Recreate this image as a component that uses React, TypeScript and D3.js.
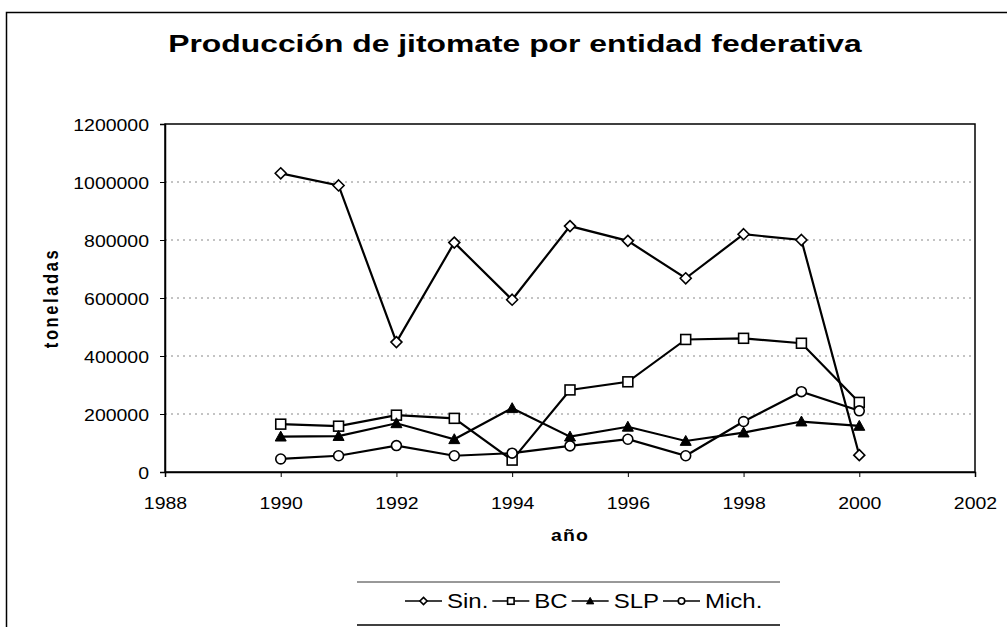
import * as d3 from 'd3';
import React, {useEffect} from 'react';

// data (toneladas)
const years = [1990, 1991, 1992, 1993, 1994, 1995, 1996, 1997, 1998, 1999, 2000];
const sinaloa = [1030000, 988000, 448000, 791000, 594000, 848000, 797000, 668000, 820000, 800000, 58000];
const bajaCalifornia = [165000, 158000, 196000, 185000, 41000, 283000, 311000, 457000, 461000, 444000, 240000];
const sanLuisPotosi = [122000, 124000, 168000, 113000, 220000, 122000, 156000, 107000, 136000, 174000, 159000];
const michoacan = [45000, 56000, 91000, 56000, 65000, 90000, 113000, 56000, 174000, 277000, 211000];

const seriesNames = ['Sin.', 'BC', 'SLP', 'Mich.'];
const seriesMarkers = ['diamond', 'square', 'triangle', 'circle'];
const yTicks = [0, 200000, 400000, 600000, 800000, 1000000, 1200000];
const xTicks = [1988, 1990, 1992, 1994, 1996, 1998, 2000, 2002];

const FONT = 'Arial, "Liberation Sans", Helvetica, sans-serif';
const SX = 1.18; // the scan is stretched sideways

export default function App() {
  const chartRef = React.useRef<SVGSVGElement>(null);

  useEffect(() => {
    drawChart();
  }, []);

  function drawChart() {
    const svg = d3.select(chartRef.current);
    svg.selectAll('*').remove();

    const width = 1007, height = 627;
    const plot = {left: 165, right: 975, top: 124, bottom: 472};

    svg.append('rect').attr('width', width).attr('height', height).attr('fill', '#fff');

    // outer chart frame
    svg.append('rect')
      .attr('x', 6.5).attr('y', 12.5)
      .attr('width', width + 20).attr('height', height + 20)
      .attr('fill', 'none').attr('stroke', '#000').attr('stroke-width', 1.5);

    // title
    svg.append('text')
      .attr('transform', 'translate(515,52) scale(1.3,1)')
      .attr('text-anchor', 'middle')
      .style('font-family', FONT).style('font-weight', 'bold').style('font-size', '24.5px')
      .text('Producción de jitomate por entidad federativa');

    let x = d3.scaleLinear().domain([1988, 2002]).range([plot.left, plot.right]);
    let y = d3.scaleLinear().domain([0, 1200000]).range([plot.bottom, plot.top]);

    // gridlines
    svg.append('g')
      .selectAll('line')
      .data(yTicks.slice(1, -1))
      .enter()
      .append('line')
      .attr('x1', plot.left).attr('x2', plot.right)
      .attr('y1', (d) => y(d)).attr('y2', (d) => y(d))
      .attr('stroke', '#888').attr('stroke-width', 1).attr('stroke-dasharray', '2,4');

    // plot area border
    svg.append('rect')
      .attr('x', plot.left).attr('y', plot.top)
      .attr('width', plot.right - plot.left).attr('height', plot.bottom - plot.top)
      .attr('fill', 'none').attr('stroke', '#000').attr('stroke-width', 1.5);

    // Y axis
    let yAxis = svg.append('g')
      .attr('transform', 'translate(' + plot.left + ',0)')
      .call(d3.axisLeft(y).tickValues(yTicks).tickSize(5).tickFormat((d) => String(d)));
    yAxis.select('.domain').attr('stroke-width', 1.5);
    yAxis.selectAll('.tick text')
      .attr('x', null).attr('dy', null)
      .attr('transform', 'translate(-16,6) scale(' + SX + ',1)')
      .style('font-family', FONT).style('font-size', '16.5px').attr('fill', '#000');

    // X axis
    let xAxis = svg.append('g')
      .attr('transform', 'translate(0,' + plot.bottom + ')')
      .call(d3.axisBottom(x).tickValues(xTicks).tickSize(5).tickFormat((d) => String(d)));
    xAxis.select('.domain').attr('stroke-width', 1.5);
    xAxis.selectAll('.tick text')
      .attr('y', null).attr('dy', null)
      .attr('transform', 'translate(0,37) scale(' + SX + ',1)')
      .style('font-family', FONT).style('font-size', '16.5px').attr('fill', '#000');

    // axis titles
    svg.append('text')
      .attr('transform', 'translate(570,541) scale(' + SX + ',1)')
      .attr('text-anchor', 'middle')
      .style('font-family', FONT).style('font-weight', 'bold').style('font-size', '16.5px')
      .style('letter-spacing', '1px')
      .text('año');
    svg.append('text')
      .attr('transform', 'translate(58,298) scale(' + SX + ',1) rotate(-90)')
      .attr('text-anchor', 'middle')
      .style('font-family', FONT).style('font-weight', 'bold').style('font-size', '16.5px')
      .style('letter-spacing', '2.6px')
      .text('toneladas');

    // series
    const allSeries = [sinaloa, bajaCalifornia, sanLuisPotosi, michoacan];
    const line = d3.line<number>()
      .x((d, i) => x(years[i]))
      .y((d) => y(d));

    function marker(g: any, kind: string, r: number) {
      if (kind === 'diamond') {
        g.append('path').attr('d', `M0,${-r}L${r},0L0,${r}L${-r},0Z`)
          .attr('fill', '#fff').attr('stroke', '#000').attr('stroke-width', 1.6);
      } else if (kind === 'square') {
        g.append('rect').attr('x', -r * 0.9).attr('y', -r * 0.9).attr('width', r * 1.8).attr('height', r * 1.8)
          .attr('fill', '#fff').attr('stroke', '#000').attr('stroke-width', 1.6);
      } else if (kind === 'triangle') {
        g.append('path').attr('d', `M0,${-r}L${r},${r * 0.8}L${-r},${r * 0.8}Z`)
          .attr('fill', '#000').attr('stroke', '#000').attr('stroke-width', 1);
      } else {
        g.append('circle').attr('r', r * 0.9)
          .attr('fill', '#fff').attr('stroke', '#000').attr('stroke-width', 1.6);
      }
    }

    allSeries.forEach((values) => {
      svg.append('path')
        .datum(values)
        .attr('d', line)
        .attr('fill', 'none')
        .attr('stroke', '#000')
        .attr('stroke-width', 2.2);
    });
    allSeries.forEach((values, si) => {
      values.forEach((v, i) => {
        const g = svg.append('g').attr('transform', 'translate(' + x(years[i]) + ',' + y(v) + ')');
        marker(g, seriesMarkers[si], 5.5);
      });
    });

    // legend
    const legend = svg.append('g');
    legend.append('line').attr('x1', 357).attr('x2', 780).attr('y1', 582).attr('y2', 582)
      .attr('stroke', '#333').attr('stroke-width', 1);
    legend.append('line').attr('x1', 357).attr('x2', 780).attr('y1', 625).attr('y2', 625)
      .attr('stroke', '#000').attr('stroke-width', 1.5);

    let lx = 405;
    const ly = 601;
    seriesNames.forEach((name, si) => {
      legend.append('line').attr('x1', lx).attr('x2', lx + 37).attr('y1', ly).attr('y2', ly)
        .attr('stroke', '#000').attr('stroke-width', 1.5);
      marker(legend.append('g').attr('transform', 'translate(' + (lx + 18.5) + ',' + ly + ')'), seriesMarkers[si], 3.6);
      lx += 42;
      const t = legend.append('text')
        .attr('transform', 'translate(' + lx + ',' + (ly + 7) + ') scale(1.2,1)')
        .style('font-family', FONT).style('font-size', '20px')
        .text(name);
      const w = (t.node() as SVGTextElement).getComputedTextLength() * 1.2;
      lx += w + 4;
    });
  }

  return (
    <svg ref={chartRef} width={1007} height={627}
      style={{position: 'absolute', left: 0, top: 0, display: 'block'}}></svg>
  );
}
